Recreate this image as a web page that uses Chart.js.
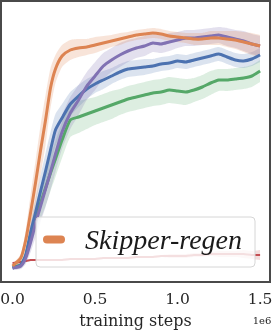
<!DOCTYPE html>
<html>
<head>
<meta charset="utf-8">
<script src="https://cdn.jsdelivr.net/npm/chart.js@4/dist/chart.umd.min.js"></script>
<style>
html,body{margin:0;padding:0;background:#fff;}
#wrap{position:relative;width:272px;height:335px;}
</style>
</head>
<body>
<div id="wrap"><canvas id="c" width="272" height="335"></canvas></div>
<script>
// training steps (x 1e6)
const steps = [0,0.05,0.08,0.11,0.14,0.17,0.2,0.23,0.26,0.3,0.35,0.4,0.45,0.5,0.55,0.6,0.65,0.7,0.75,0.8,0.85,0.9,0.95,1.0,1.05,1.1,1.15,1.2,1.25,1.3,1.35,1.4,1.45,1.5];
const xTicks = [0, 0.5, 1.0, 1.5];
const legendLabel = 'Skipper-regen';

// mean returns (arbitrary score units)
const orangeMean = [2,10,28,56,86,118,148,180,199,212,218,220,221,223,225,227,229,231,233,234,235,234,232,231,230,229,229,230,230,229,228,226,224,222];
const orangeStd  = [2,4,10,18,22,25,25,20,14,11,10,9,8,8,7,6,6,5,5,5,5,5,5,5,5,6,6,7,7,8,9,10,11,11];
const purpleMean = [0,2,10,26,45,62,79,96,114,136,155,168,182,192,202,208,213,217,220,222,225,224,226,228,230,230,231,232,233,231,229,227,224,222];
const purpleStd  = [2,3,6,10,14,16,18,18,18,17,16,15,14,14,13,12,12,11,10,10,9,9,9,8,8,8,8,8,8,9,9,10,10,10];
const blueMean   = [0,3,13,36,56,77,97,118,138,150,164,172,179,184,188,192,196,199,200,201,202,204,205,207,206,208,210,212,214,211,208,207,209,213];
const blueStd    = [2,3,6,10,14,16,18,18,16,14,12,11,10,9,9,8,8,8,8,8,7,7,7,7,7,7,7,7,7,7,7,7,7,7];
const greenMean  = [1,3,12,33,50,65,80,95,109,128,148,151,154,157,160,163,166,169,171,173,175,176,178,177,176,178,181,185,188,188,189,190,192,197];
const greenStd   = [2,3,6,10,14,16,18,18,18,18,17,16,15,14,14,14,13,13,13,13,13,13,13,13,13,12,12,12,11,11,11,11,11,11];
const redMean    = [5,6,7,8,8,8,8,8,8,8,9,9,9,9,10,10,10,10,11,11,11,12,12,12,12,13,13,14,14,14,14,14,13,13];
const redStd     = [1,1,1,1,1,1,1,1,1,1,1,1,1,1,1,1,1,1,1,1,1,1,2,2,2,2,2,2,3,3,3,4,4,5];

const series = [
  {name: legendLabel, mean: orangeMean, std: orangeStd, color: '#DD8452', band: 'rgba(221,132,82,0.22)', w: 3},
  {name: '', mean: purpleMean, std: purpleStd, color: '#8172B3', band: 'rgba(129,114,179,0.22)', w: 3},
  {name: '', mean: blueMean, std: blueStd, color: '#4C72B0', band: 'rgba(76,114,176,0.2)', w: 3},
  {name: '', mean: greenMean, std: greenStd, color: '#55A868', band: 'rgba(85,168,104,0.2)', w: 3},
  {name: '', mean: redMean, std: redStd, color: '#C44E52', band: 'rgba(196,78,82,0.2)', w: 2}
];

const pts = arr => steps.map((s, i) => ({x: s, y: arr[i]}));
const datasets = [];
series.forEach(s => {
  datasets.push({label: s.name, data: pts(s.mean), borderColor: s.color, borderWidth: s.w,
    pointRadius: 0, fill: false, tension: 0.2, order: 0});
});
series.forEach(s => {
  datasets.push({label: '', data: pts(s.mean.map((m, i) => m + s.std[i])), borderWidth: 0,
    borderColor: 'rgba(0,0,0,0)', pointRadius: 0, fill: false, tension: 0.2, order: 1});
  datasets.push({label: '', data: pts(s.mean.map((m, i) => m - s.std[i])), borderWidth: 0,
    borderColor: 'rgba(0,0,0,0)', backgroundColor: s.band, pointRadius: 0, fill: '-1', tension: 0.2, order: 1});
});

const framePlugin = {
  id: 'frameAndLegend',
  afterDatasetsDraw(chart) {
    const ctx = chart.ctx;
    ctx.save();
    const bx = 36, by = 217, bw = 219, bh = 50, r = 4;
    ctx.beginPath();
    ctx.roundRect(bx, by, bw, bh, r);
    ctx.fillStyle = 'rgba(255,255,255,0.82)';
    ctx.fill();
    ctx.strokeStyle = '#d6d6d6';
    ctx.lineWidth = 1;
    ctx.stroke();
    ctx.beginPath();
    ctx.moveTo(47, 239.5); ctx.lineTo(61, 239.5);
    ctx.strokeStyle = series[0].color;
    ctx.lineWidth = 8; ctx.lineCap = 'round';
    ctx.stroke();
    ctx.fillStyle = '#1a1a1a';
    ctx.font = 'italic 28px "Liberation Serif"';
    ctx.textBaseline = 'alphabetic';
    ctx.fillText(chart.data.datasets[0].label, 85, 249);
    ctx.restore();
  },
  afterDraw(chart) {
    const ctx = chart.ctx, a = chart.chartArea;
    ctx.save();
    ctx.strokeStyle = '#4a4a4a';
    ctx.lineWidth = 2;
    ctx.strokeRect(a.left, a.top, a.right - a.left, a.bottom - a.top);
    ctx.fillStyle = '#262626';
    ctx.font = '10px "DejaVu Serif"';
    ctx.textAlign = 'center';
    ctx.textBaseline = 'middle';
    ctx.fillText('1e6', 262, 321);
    ctx.restore();
  }
};

new Chart(document.getElementById('c'), {
  type: 'line',
  data: {datasets},
  options: {
    responsive: false,
    animation: false,
    layout: {padding: {left: 1, right: 2, top: 1, bottom: 4}},
    plugins: {legend: {display: false}, tooltip: {enabled: false}},
    scales: {
      x: {
        type: 'linear', min: -0.07, max: 1.56,
        afterBuildTicks: sc => { sc.ticks = xTicks.map(v => ({value: v})); },
        afterFit: sc => { sc.height = 49; sc.paddingLeft = 0; sc.paddingRight = 0; },
        grid: {display: false, drawTicks: false},
        border: {display: false},
        ticks: {padding: 9, color: '#262626', font: {family: 'DejaVu Serif', size: 15.5},
          maxRotation: 0, callback: v => Number(v).toFixed(1)},
        title: {display: true, text: 'training steps', color: '#262626',
          font: {family: 'DejaVu Serif', size: 16}, padding: {top: 0, bottom: 0}}
      },
      y: {type: 'linear', min: -14, max: 267, display: false}
    }
  },
  plugins: [framePlugin]
});
</script>
</body>
</html>
